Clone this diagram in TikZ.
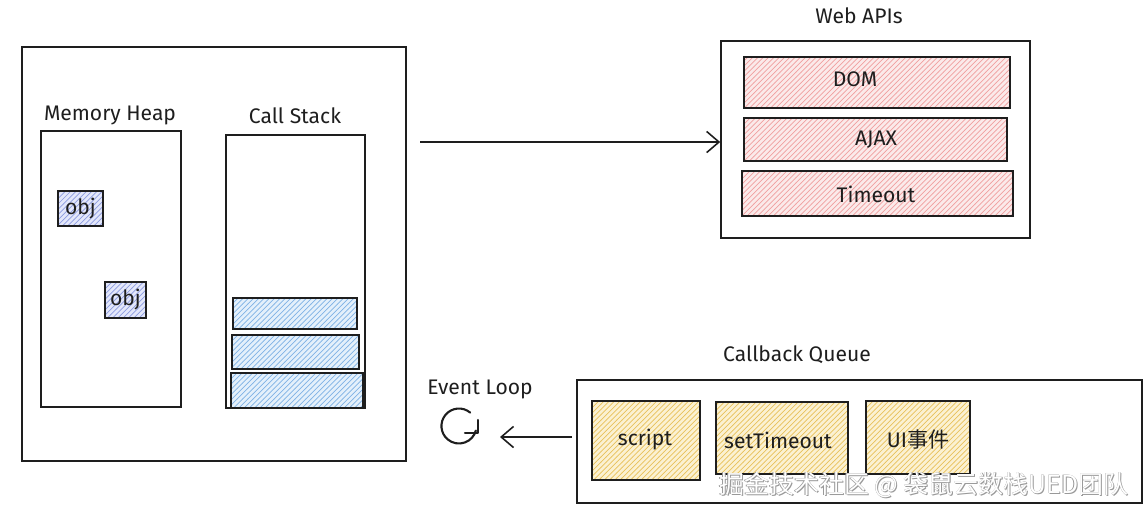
\documentclass[tikz,border=0pt]{standalone}
\usepackage{fontspec}
\setmainfont{Fira Sans}
\newfontfamily\cjk{Noto Sans CJK SC}
\usetikzlibrary{fit,patterns,arrows.meta,calc}
\definecolor{inkc}{HTML}{1E1E1E}
\definecolor{pinkbg}{HTML}{FBEAEA}
\definecolor{pinkln}{HTML}{F0A0A0}
\definecolor{bluebg}{HTML}{E4F0FB}
\definecolor{blueln}{HTML}{7FB2E5}
\definecolor{objbg}{HTML}{E3E7FA}
\definecolor{objln}{HTML}{8C9BE0}
\definecolor{yelbg}{HTML}{FBF1D2}
\definecolor{yelln}{HTML}{E8C15A}
\tikzset{
  x=0.02cm, y=-0.02cm,
  box/.style={draw=inkc, line width=0.9pt, inner sep=0pt},
  hatchpink/.style={box, preaction={fill=pinkbg}, pattern=north east lines, pattern color=pinkln},
  hatchblue/.style={box, preaction={fill=bluebg}, pattern=north east lines, pattern color=blueln},
  hatchobj/.style={box, preaction={fill=objbg}, pattern=north east lines, pattern color=objln},
  hatchyel/.style={box, preaction={fill=yelbg}, pattern=north east lines, pattern color=yelln},
  lbl/.style={font=\fontsize{12}{14}\selectfont, text=inkc, inner sep=0pt},
  arr/.style={draw=inkc, line width=0.9pt, -{Straight Barb[length=7pt,width=12pt]}},
  icon/.style={draw=inkc, line width=1.2pt, line cap=round, line join=round},
  wm/.style={font=\cjk\fontsize{14.2}{17}\selectfont, inner sep=0pt, anchor=east}
}
\begin{document}
\begin{tikzpicture}
\useasboundingbox (0,0) rectangle (1146,515);
% left big box
\node[box, fit={(22,47) (406,461)}] (outer) {};
\node[lbl] (mhlabel) at (110,115) {Memory Heap};
\node[box, fit={(41,131) (181,407)}] (heap) {};
\node[hatchobj, fit={(58,191) (103,226)}] (obj1) {};
\node[lbl] (obj1t) at (obj1.center) {obj};
\node[hatchobj, fit={(105,282) (146,318)}] (obj2) {};
\node[lbl] (obj2t) at (obj2.center) {obj};
\node[lbl] (cslabel) at (295,116) {Call Stack};
\node[box, fit={(226,135) (365,408)}] (stack) {};
\node[hatchblue, fit={(233,298) (357,329)}] (s1) {};
\node[hatchblue, fit={(232,335) (359,369)}] (s2) {};
\node[hatchblue, fit={(231,373) (363,408)}] (s3) {};
% web apis
\node[lbl] (walabel) at (859,16) {Web APIs};
\node[box, fit={(721,41) (1030,238)}] (web) {};
\node[hatchpink, fit={(744,57) (1010,108)}] (dom) {};
\node[lbl] (domt) at (855,79) {DOM};
\node[hatchpink, fit={(744,118) (1007,161)}] (ajax) {};
\node[lbl] (ajaxt) at (876,140) {AJAX};
\node[hatchpink, fit={(742,171) (1013,216)}] (tmo) {};
\node[lbl] (tmot) at (876,194) {Timeout};
\coordinate (a1) at (420,142);
\draw[arr] (a1) -- (web.west |- a1);
% callback queue
\node[lbl] (cqlabel) at (797,355) {Callback Queue};
\node[box, fit={(577,380) (1142,503)}] (queue) {};
\node[hatchyel, fit={(592,401) (700,480)}] (q1) {};
\node[lbl] (q1t) at (645,440) {script};
\node[hatchyel, fit={(716,402) (848,474)}] (q2) {};
\node[lbl] (q2t) at (778,440) {setTimeout};
\node[hatchyel, fit={(866,401) (970,474)}] (q3) {};
\node[lbl] (q3t) at (918,440) {UI{\cjk 事件}};
% event loop
\node[lbl] (ellabel) at (480,389) {Event Loop};
\node[inner sep=0pt, minimum size=36*0.02cm] (loop) at (459,426) {};
\draw[icon] ($(loop.center)+(11.2,-13.4)$) arc[start angle=50, end angle=345, radius=0.35cm];
\draw[icon] ($(loop.center)+(6,7)$) -- ($(loop.center)+(19,7)$) -- ($(loop.center)+(19,-6)$);
\coordinate (a2) at (572,437);
\draw[arr] (a2) -- (500,437) coordinate (a2end);
% watermark
\node[wm, text=gray!80] (wms1) at (1129.7,486) {掘金技术社区 @ 袋鼠云数栈UED团队};
\node[wm, text=gray!80] (wms2) at (1128.3,484.6) {掘金技术社区 @ 袋鼠云数栈UED团队};
\node[wm, text=gray!80] (wms3) at (1129,485.4) {掘金技术社区 @ 袋鼠云数栈UED团队};
\node[wm, text=white] (wm) at (1128.8,485) {掘金技术社区 @ 袋鼠云数栈UED团队};
\end{tikzpicture}
\end{document}
